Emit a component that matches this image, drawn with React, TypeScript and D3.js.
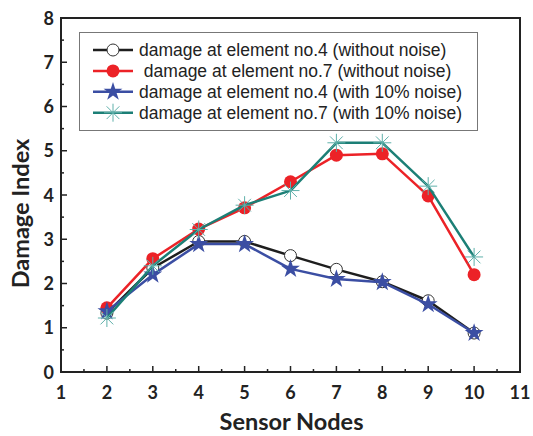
import React from "react";
import * as d3 from "d3";

const nodes = [2, 3, 4, 5, 6, 7, 8, 9, 10];
const elem4NoNoise = [1.33, 2.35, 2.95, 2.95, 2.63, 2.32, 2.04, 1.61, 0.88];
const elem7NoNoise = [1.45, 2.56, 3.23, 3.71, 4.3, 4.9, 4.93, 3.98, 2.2];
const elem4Noise = [1.37, 2.2, 2.89, 2.89, 2.33, 2.1, 2.03, 1.53, 0.88];
const elem7Noise = [1.22, 2.4, 3.22, 3.77, 4.1, 5.18, 5.18, 4.2, 2.6];
const xTicks = [1, 2, 3, 4, 5, 6, 7, 8, 9, 10, 11];
const yTicks = [0, 1, 2, 3, 4, 5, 6, 7, 8];
const labels = [
  "damage at element no.4 (without noise)",
  " damage at element no.7 (without noise)",
  "damage at element no.4 (with 10% noise)",
  "damage at element no.7 (with 10% noise)",
];

const W = 533, H = 436;
const L = 61, R = 520, T = 18, B = 372;

const series = [
  { values: elem4NoNoise, color: "#1e1e1e", marker: "circle" },
  { values: elem7NoNoise, color: "#ec2227", marker: "dot" },
  { values: elem4Noise, color: "#3b4ea3", marker: "star" },
  { values: elem7Noise, color: "#1c7f76", marker: "asterisk", mcolor: "#5fb0aa" },
];

function Marker({ type, x, y, color, mcolor }: any) {
  if (type === "circle")
    return <circle cx={x} cy={y} r={6} fill="#fff" stroke="#333" strokeWidth={1} />;
  if (type === "dot") return <circle cx={x} cy={y} r={6.5} fill={color} />;
  if (type === "star") {
    const p = d3.symbol().type(d3.symbolStar).size(110)();
    return <path d={p || ""} transform={`translate(${x},${y})`} fill={color} />;
  }
  const r = 9;
  const lines = [];
  for (let i = 0; i < 4; i++) {
    const a = (i * Math.PI) / 4;
    lines.push(
      <line key={i} x1={x - r * Math.cos(a)} y1={y - r * Math.sin(a)} x2={x + r * Math.cos(a)} y2={y + r * Math.sin(a)} stroke={mcolor} strokeWidth={1} />
    );
  }
  return <g>{lines}</g>;
}

export default function App() {
  const x = d3.scaleLinear().domain([1, 11]).range([L, R]);
  const y = d3.scaleLinear().domain([0, 8]).range([B, T]);
  const line = d3.line<number>().x((_, i) => x(nodes[i])).y((d) => y(d));
  const minorX = d3.range(1.5, 11, 1);
  const minorY = d3.range(0.5, 8, 1);
  const tickFont = "Lato, 'Open Sans', sans-serif";
  return (
    <svg width={W} height={H} style={{ position: "absolute", left: 0, top: 0, background: "#fff" }}>
      <rect x={L} y={T} width={R - L} height={B - T} fill="none" stroke="#222" strokeWidth={2} />
      {xTicks.map((t) => (
        <g key={"x" + t}>
          <line x1={x(t)} x2={x(t)} y1={B} y2={B - 6} stroke="#222" strokeWidth={1.5} />
          <text x={x(t)} y={B + 27} textAnchor="middle" fontFamily={tickFont} fontWeight={700} fontSize={18} fill="#222">{t}</text>
        </g>
      ))}
      {minorX.map((t) => (
        <line key={"mx" + t} x1={x(t)} x2={x(t)} y1={B} y2={B - 3} stroke="#222" strokeWidth={1.5} />
      ))}
      {yTicks.map((t) => (
        <g key={"y" + t}>
          <line x1={L} x2={L + 6} y1={y(t)} y2={y(t)} stroke="#222" strokeWidth={1.5} />
          <text x={L - 7} y={y(t) + 6.5} textAnchor="end" fontFamily={tickFont} fontWeight={700} fontSize={18} fill="#222">{t}</text>
        </g>
      ))}
      {minorY.map((t) => (
        <line key={"my" + t} x1={L} x2={L + 3} y1={y(t)} y2={y(t)} stroke="#222" strokeWidth={1.5} />
      ))}
      <text x={291.5} y={430} textAnchor="middle" fontFamily={tickFont} fontWeight={700} fontSize={23.5} fill="#222">Sensor Nodes</text>
      <text transform={`translate(29,213.5) rotate(-90)`} textAnchor="middle" fontFamily={tickFont} fontWeight={700} fontSize={23.5} fill="#222">Damage Index</text>
      {series.map((s, si) => (
        <g key={si}>
          <path d={line(s.values) || ""} fill="none" stroke={s.color} strokeWidth={2.5} strokeLinejoin="round" />
          {s.values.map((v, i) => (
            <Marker key={i} type={s.marker} x={x(nodes[i])} y={y(v)} color={s.color} mcolor={s.mcolor} />
          ))}
        </g>
      ))}
      <rect x={79.5} y={32.5} width={398} height={98} fill="#fff" stroke="#777" strokeWidth={1} />
      {series.map((s, i) => {
        const ly = 50 + i * 20.9;
        return (
          <g key={"l" + i}>
            <line x1={93} x2={133} y1={ly} y2={ly} stroke={s.color} strokeWidth={2.5} />
            <Marker type={s.marker} x={113} y={ly} color={s.color} mcolor={s.mcolor} />
            <text x={139} y={ly + 6} fontFamily="'Liberation Sans', Arial, sans-serif" fontSize={17.5} fill="#222" style={{ whiteSpace: "pre" }}>{labels[i]}</text>
          </g>
        );
      })}
    </svg>
  );
}
